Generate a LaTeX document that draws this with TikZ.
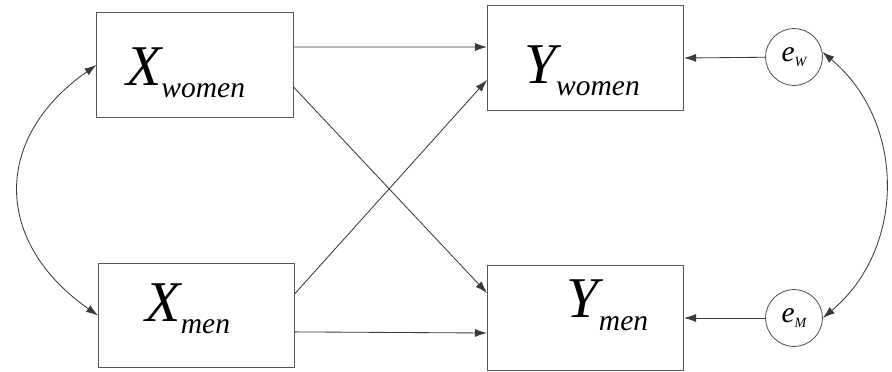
\documentclass[tikz,border=0pt]{standalone}
\usepackage{fontspec}
\setmainfont{Liberation Serif}
\usepackage{xcolor}
\usepackage{tikz}
\usetikzlibrary{arrows.meta,calc}
\definecolor{ink}{HTML}{3A3A3A}
\definecolor{frame}{HTML}{555555}
% variable with its group written low and big, as in the path diagram
\newcommand{\grpvar}[2]{{\fontsize{41}{44}\selectfont\itshape #1}\raisebox{-0.3cm}{\fontsize{21}{24}\selectfont\itshape #2}}
\newcommand{\errvar}[1]{{\fontsize{21}{24}\selectfont\itshape e}\raisebox{-0.12cm}{\fontsize{10}{12}\selectfont\itshape #1}}
\tikzset{
    every picture/.style={line cap=round,line join=round},
    varbox/.style={draw=frame,fill=white,line width=0.7pt,
      minimum width=4.9cm,minimum height=2.6cm,inner sep=0pt,align=center,
      text depth=0.28cm},
    errnode/.style={draw=frame,circle,fill=white,line width=0.6pt,
      minimum size=1.42cm,inner sep=0pt},
    patharrow/.style={-{Latex[length=3mm,width=2mm]},draw=ink,line width=0.6pt},
    covarrow/.style={{Latex[length=3mm,width=2mm]}-{Latex[length=3mm,width=2mm]},
      draw=ink,line width=0.6pt}
}
\begin{document}
\begin{tikzpicture}[x=0.025cm,y=-0.025cm]
  \useasboundingbox (0,0) rectangle (892,372);
  \node[varbox,text height=1.28cm] (xw) at (195,65) {\grpvar{X}{women}\hspace*{0.47cm}};
  \node[varbox,text height=0.6cm] (xm) at (196.5,315.5) {\grpvar{X}{men}\hspace*{0.43cm}};
  \node[varbox,text height=1.53cm] (yw) at (585.5,58) {\grpvar{Y}{women}\hspace*{0.18cm}};
  \node[varbox,text height=1.0cm,text depth=1.0cm] (ym) at (585.5,318) {\hspace*{1.1cm}\grpvar{Y}{men}};
  \node[errnode] (ew) at (794,57) {\errvar{W}};
  \node[errnode] (em) at (794,318) {\errvar{M}};
  % paths between groups
  \draw[patharrow] ([yshift=0.45cm]xw.east)--([yshift=0.275cm]yw.west);
  \draw[patharrow] ([yshift=-0.55cm]xw.east)--([yshift=0.625cm]ym.west);
  \draw[patharrow] ([yshift=0.55cm]xm.east)--([yshift=-0.55cm]yw.west);
  \draw[patharrow] ([yshift=-0.41cm]xm.east)--([yshift=-0.375cm]ym.west);
  \draw[patharrow] (ew)--(yw.east);
  \draw[patharrow] (em)--(ym.east);
  % covariances
  \draw[covarrow] (xw.west) to[out=215,in=145,looseness=1.3] (xm.west);
  \draw[covarrow] (ew.10) to[out=-40,in=40,looseness=1.05] (em.east);
\end{tikzpicture}
\end{document}
